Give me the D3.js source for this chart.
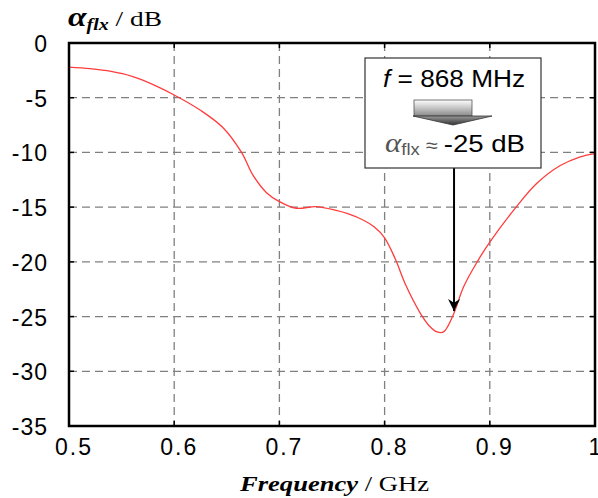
<!DOCTYPE html>
<html lang="en">
<head>
    <meta charset="UTF-8">
    <title>Attenuation vs frequency</title>
    <script src="https://cdnjs.cloudflare.com/ajax/libs/d3/7.8.5/d3.min.js"></script>
    <style>
        body { margin: 0; background: #fff; }
        svg { display: block; }
    </style>
</head>
<body>
    <div id="chart"></div>

    <script>
        // values
        var freqs = [0.50, 0.52, 0.54, 0.56, 0.58, 0.60, 0.625, 0.646, 0.664, 0.675, 0.688, 0.70, 0.716, 0.735, 0.754, 0.765, 0.78, 0.79, 0.80, 0.81, 0.82, 0.834, 0.843, 0.850, 0.856, 0.865, 0.875, 0.888, 0.90, 0.925, 0.945, 0.967, 0.986, 1.00];
        var atten = [-2.2, -2.35, -2.6, -3.05, -3.8, -4.75, -6.15, -7.7, -10.0, -12.1, -13.7, -14.5, -15.1, -14.95, -15.3, -15.6, -16.2, -16.8, -17.8, -19.7, -22.1, -24.7, -25.9, -26.4, -26.4, -24.9, -22.3, -20.0, -18.2, -15.0, -12.8, -11.2, -10.4, -10.1];

        var xTicks = [0.5, 0.6, 0.7, 0.8, 0.9, 1.0];
        var xTickLabels = ["0.5", "0.6", "0.7", "0.8", "0.9", "1"];
        var yTicks = [0, -5, -10, -15, -20, -25, -30, -35];

        var markFreq = 0.866;   // 868 MHz marker
        var markDb = -24.5;

        var width = 598, height = 498;
        var pL = 69, pR = 595, pT = 43, pB = 426;

        var svg = d3.select("#chart").append("svg")
            .attr("width", width)
            .attr("height", height);

        var x = d3.scaleLinear().domain([0.5, 1.0]).range([pL, pR]);
        var y = d3.scaleLinear().domain([-35, 0]).range([pB, pT]);

        var defs = svg.append("defs");
        var grad = defs.append("linearGradient")
            .attr("id", "arrowFill")
            .attr("x1", 0).attr("y1", 0).attr("x2", 0).attr("y2", 1);
        grad.append("stop").attr("offset", "0%").attr("stop-color", "#9a9a9a");
        grad.append("stop").attr("offset", "100%").attr("stop-color", "#333333");
        var grad2 = defs.append("linearGradient")
            .attr("id", "rectFill")
            .attr("x1", 0).attr("y1", 0).attr("x2", 0).attr("y2", 1);
        grad2.append("stop").attr("offset", "0%").attr("stop-color", "#ffffff");
        grad2.append("stop").attr("offset", "100%").attr("stop-color", "#8a8a8a");
        defs.append("marker")
            .attr("id", "head")
            .attr("viewBox", "0 0 10 10")
            .attr("refX", 10).attr("refY", 5)
            .attr("markerWidth", 6).attr("markerHeight", 8)
            .attr("markerUnits", "strokeWidth")
            .attr("orient", "auto")
            .append("path")
            .attr("d", "M0,0 L10,5 L0,10 L3,5 Z")
            .attr("fill", "#000");

        // grid
        var grid = svg.append("g");
        grid.selectAll(".vg")
            .data(xTicks.slice(1, -1))
            .enter().append("line")
            .attr("x1", d => x(d)).attr("x2", d => x(d))
            .attr("y1", pT).attr("y2", pB)
            .attr("stroke", "#808080")
            .attr("stroke-width", 1.3)
            .attr("stroke-dasharray", "8,5");
        grid.selectAll(".hg")
            .data(yTicks.slice(1, -1))
            .enter().append("line")
            .attr("x1", pL).attr("x2", pR)
            .attr("y1", d => y(d)).attr("y2", d => y(d))
            .attr("stroke", "#808080")
            .attr("stroke-width", 1.3)
            .attr("stroke-dasharray", "8,5");

        // inward ticks on the frame
        var ticks = svg.append("g").attr("stroke", "#000").attr("stroke-width", 1.5);
        yTicks.slice(1, -1).forEach(function (d) {
            ticks.append("line").attr("x1", pL).attr("x2", pL + 5).attr("y1", y(d)).attr("y2", y(d));
            ticks.append("line").attr("x1", pR - 5).attr("x2", pR).attr("y1", y(d)).attr("y2", y(d));
        });
        xTicks.slice(1, -1).forEach(function (d) {
            ticks.append("line").attr("x1", x(d)).attr("x2", x(d)).attr("y1", pT).attr("y2", pT + 5);
            ticks.append("line").attr("x1", x(d)).attr("x2", x(d)).attr("y1", pB - 5).attr("y2", pB);
        });

        // curve
        var data = freqs.map((f, i) => ({ f: f, v: atten[i] }));
        var line = d3.line()
            .x(d => x(d.f))
            .y(d => y(d.v))
            .curve(d3.curveCatmullRom.alpha(0.5));
        svg.append("path")
            .datum(data)
            .attr("d", line)
            .attr("fill", "none")
            .attr("stroke", "#ff3c3c")
            .attr("stroke-width", 1.3);

        // frame
        svg.append("rect")
            .attr("x", pL).attr("y", pT)
            .attr("width", pR - pL).attr("height", pB - pT)
            .attr("fill", "none")
            .attr("stroke", "#000")
            .attr("stroke-width", 2.5);

        // tick labels
        svg.append("g").selectAll("text")
            .data(yTicks)
            .enter().append("text")
            .attr("x", pL - 21)
            .attr("y", d => y(d) + 9)
            .attr("text-anchor", "end")
            .attr("font-family", "Liberation Sans, Arial, sans-serif")
            .attr("font-size", 23)
            .attr("letter-spacing", 1)
            .text(d => d);

        svg.append("g").selectAll("text")
            .data(xTicks)
            .enter().append("text")
            .attr("x", (d, i) => x(d) + (i === xTicks.length - 1 ? 1 : 5))
            .attr("y", pB + 29)
            .attr("text-anchor", "middle")
            .attr("font-family", "Liberation Sans, Arial, sans-serif")
            .attr("font-size", 23)
            .attr("letter-spacing", 2)
            .text((d, i) => xTickLabels[i]);

        // axis titles
        var yt = svg.append("text")
            .attr("x", 68).attr("y", 26)
            .attr("font-family", "Liberation Serif, Times New Roman, serif")
            .attr("font-size", 22)
            .attr("textLength", 94)
            .attr("lengthAdjust", "spacingAndGlyphs");
        yt.append("tspan").attr("font-weight", "bold").attr("font-style", "italic").attr("font-size", 27).text("α");
        yt.append("tspan").attr("font-weight", "bold").attr("font-style", "italic").attr("font-size", 16).attr("dy", 4).text("flx");
        yt.append("tspan").attr("dy", -4).text("  / dB");

        var xt = svg.append("text")
            .attr("x", 240).attr("y", 491)
            .attr("font-family", "Liberation Serif, Times New Roman, serif")
            .attr("font-size", 22)
            .attr("textLength", 189)
            .attr("lengthAdjust", "spacingAndGlyphs");
        xt.append("tspan").attr("font-weight", "bold").attr("font-style", "italic").text("Frequency");
        xt.append("tspan").text(" / GHz");

        // annotation
        var bx = 365, by = 58, bw = 176, bh = 110;
        var cx = x(markFreq);
        svg.append("line")
            .attr("x1", cx).attr("x2", cx)
            .attr("y1", by + bh).attr("y2", y(markDb))
            .attr("stroke", "#000")
            .attr("stroke-width", 2)
            .attr("marker-end", "url(#head)");

        svg.append("rect")
            .attr("x", bx).attr("y", by)
            .attr("width", bw).attr("height", bh)
            .attr("fill", "#fff")
            .attr("stroke", "#333")
            .attr("stroke-width", 1.2);

        svg.append("text")
            .attr("x", 383).attr("y", by + 29)
            .attr("font-family", "Liberation Sans, Arial, sans-serif")
            .attr("font-size", 23)
            .attr("textLength", 142)
            .attr("lengthAdjust", "spacingAndGlyphs")
            .call(t => {
                t.append("tspan").attr("font-style", "italic").text("f");
                t.append("tspan").text(" = 868 MHz");
            });

        // block arrow
        svg.append("rect")
            .attr("x", 414).attr("y", 100)
            .attr("width", 58).attr("height", 16)
            .attr("fill", "url(#rectFill)")
            .attr("stroke", "#555")
            .attr("stroke-width", 0.8);
        svg.append("path")
            .attr("d", "M413,116 L492,116 L453,125 Z")
            .attr("fill", "url(#arrowFill)")
            .attr("stroke", "#333")
            .attr("stroke-width", 0.8);

        var t2 = svg.append("text")
            .attr("x", 385).attr("y", 152)
            .attr("font-family", "Liberation Sans, Arial, sans-serif")
            .attr("font-size", 24)
            .attr("textLength", 140)
            .attr("lengthAdjust", "spacingAndGlyphs");
        t2.append("tspan").attr("font-family", "Liberation Serif, Times New Roman, serif")
            .attr("font-style", "italic").attr("fill", "#555").attr("font-size", 27).text("α");
        t2.append("tspan").attr("fill", "#555").attr("font-size", 16).attr("dy", 3).text("flx");
        t2.append("tspan").attr("fill", "#555").attr("font-size", 19).attr("dy", -3).text(" ≈ ");
        t2.append("tspan").text("-25 dB");
    </script>
</body>
</html>
